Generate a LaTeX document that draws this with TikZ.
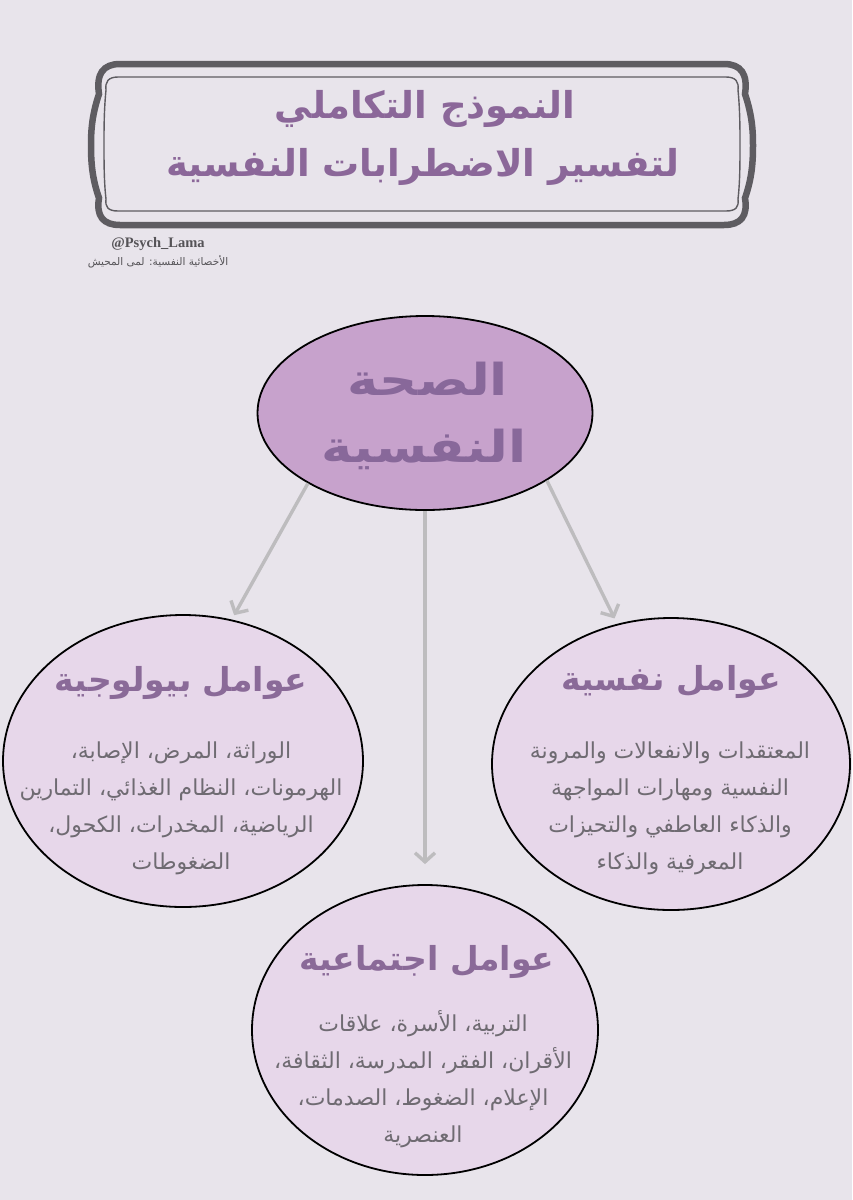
\documentclass[tikz,border=0pt]{standalone}
\usepackage{fontspec}
\TeXXeTstate=1
\newfontfamily\arabicfont[Script=Arabic]{DejaVu Sans}
\newfontfamily\widearabic[Script=Arabic,FakeStretch=1.2]{DejaVu Sans}
\newfontfamily\latinserif{Liberation Serif}
\usetikzlibrary{shapes.geometric,arrows.meta}
\definecolor{bg}{HTML}{E8E4EB}
\definecolor{framegray}{HTML}{5E5C61}
\definecolor{titlepurple}{HTML}{8B6799}
\definecolor{centerfill}{HTML}{C7A2CC}
\definecolor{centertext}{HTML}{88689A}
\definecolor{boxfill}{HTML}{E7D7EA}
\definecolor{headpurple}{HTML}{8A6A98}
\definecolor{bodygray}{HTML}{6F6B72}
\definecolor{arrowgray}{HTML}{BDBCBE}
\definecolor{credgray}{HTML}{555357}
\newcommand{\AR}[1]{{\arabicfont\beginR #1\endR}}
\newcommand{\ARW}[1]{{\widearabic\beginR #1\endR}}
\begin{document}
\begin{tikzpicture}[x=1pt,y=-1pt,
  bubble/.style={ellipse,draw=black,line width=1.8pt,fill=boxfill,inner sep=0pt},
  heading/.style={text=headpurple,font=\bfseries\fontsize{33}{38}\selectfont},
  bodytext/.style={text=bodygray,align=center,font=\fontsize{22}{37}\selectfont},
  centerword/.style={text=centertext,font=\bfseries\fontsize{44}{50}\selectfont},
  conn/.style={draw=arrowgray,line width=3.4pt,-{Straight Barb[length=9pt,width=20pt]}},
  titletext/.style={text=titlepurple,font=\bfseries\fontsize{37}{44}\selectfont}
]
\fill[bg] (0,0) rectangle (852,1200);
\useasboundingbox (0,0) rectangle (852,1200);
% title frame, outer
\draw[framegray,line width=6.5pt]
  (120,64) -- (724,64)
  .. controls (741,64) and (748,74) .. (745,94)
  .. controls (752,115) and (753,130) .. (753,145)
  .. controls (753,162) and (752,178) .. (745,198)
  .. controls (748,216) and (741,225) .. (724,225)
  -- (120,225)
  .. controls (103,225) and (96,216) .. (99,198)
  .. controls (92,178) and (91,162) .. (91,145)
  .. controls (91,130) and (92,115) .. (99,94)
  .. controls (96,74) and (103,64) .. (120,64) -- cycle;
% title frame, inner
\draw[framegray,line width=1.4pt]
  (118,77) -- (726,77)
  .. controls (736,77) and (739,82) .. (738,90)
  .. controls (740,110) and (740,130) .. (740,144)
  .. controls (740,162) and (740,182) .. (738,199)
  .. controls (739,207) and (736,211) .. (726,211)
  -- (118,211)
  .. controls (108,211) and (105,207) .. (106,199)
  .. controls (104,182) and (104,162) .. (104,144)
  .. controls (104,130) and (104,110) .. (106,90)
  .. controls (105,82) and (108,77) .. (118,77) -- cycle;
\node[titletext] (title1) at (425,109) {\AR{النموذج التكاملي}};
\node[titletext] (title2) at (423,167) {\AR{لتفسير الاضطرابات النفسية}};
% credits
\node[text=credgray,font=\latinserif\bfseries\fontsize{14.5}{16}\selectfont] (handle) at (158,244) {@Psych\_Lama};
\node[text=credgray,font=\fontsize{10.5}{13}\selectfont] (author) at (158,262) {\AR{الأخصائية النفسية: لمى المحيش}};
% central ellipse
\node[ellipse,draw=black,line width=1.8pt,fill=centerfill,minimum width=335pt,minimum height=194pt,inner sep=0pt] (health) at (425,413) {};
\node[centerword] (h1) at (428,379) {\ARW{الصحة}};
\node[centerword] (h2) at (424,449) {\ARW{النفسية}};
% factor ellipses
\node[bubble,minimum width=360pt,minimum height=292pt] (bio) at (183,761) {};
\node[bubble,minimum width=358pt,minimum height=292pt] (psych) at (671,764) {};
\node[bubble,minimum width=346pt,minimum height=290pt] (social) at (425,1030) {};
% headings
\node[heading] (bioh) at (181,683) {\AR{عوامل بيولوجية}};
\node[heading] (psychh) at (671,682) {\AR{عوامل نفسية}};
\node[heading] (socialh) at (427,962) {\AR{عوامل اجتماعية}};
% body texts
\node[bodytext] (biob) at (181,808) {\AR{الوراثة، المرض، الإصابة،}\\\AR{الهرمونات، النظام الغذائي، التمارين}\\\AR{الرياضية، المخدرات، الكحول،}\\\AR{الضغوطات}};
\node[bodytext] (psychb) at (670,808) {\AR{المعتقدات والانفعالات والمرونة}\\\AR{النفسية ومهارات المواجهة}\\\AR{والذكاء العاطفي والتحيزات}\\\AR{المعرفية والذكاء}};
\node[bodytext] (socialb) at (423,1079) {\AR{التربية، الأسرة، علاقات}\\\AR{الأقران، الفقر، المدرسة، الثقافة،}\\\AR{الإعلام، الضغوط، الصدمات،}\\\AR{العنصرية}};
% connectors
\draw[conn,shorten >=5pt] (health.211) -- (bio.71);
\draw[conn,shorten >=20pt] (health.south) -- (social.north);
\draw[conn,shorten >=6pt] (health.-29.6) -- (psych.111);
\end{tikzpicture}
\end{document}
